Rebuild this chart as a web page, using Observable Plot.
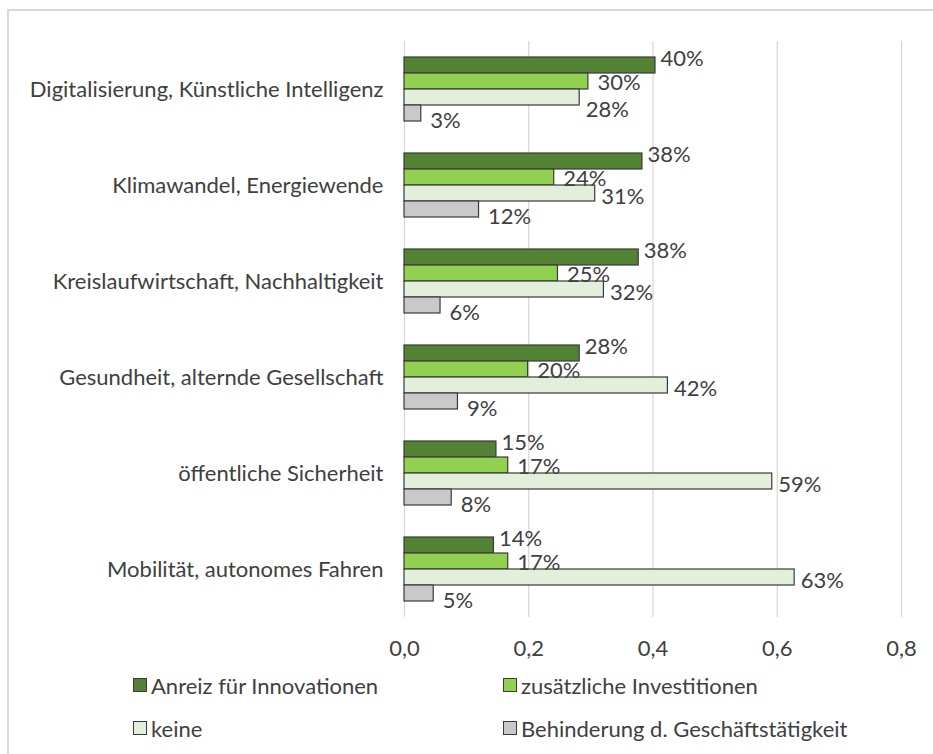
<!DOCTYPE html>
<html>
<head>
<meta charset="utf-8">
<script src="https://cdn.jsdelivr.net/npm/d3@7"></script>
<script src="https://cdn.jsdelivr.net/npm/@observablehq/plot@0.6"></script>
<style>
  html, body { margin: 0; padding: 0; background: #fff; overflow: hidden; }
  #wrap { position: relative; width: 933px; height: 754px; background: #fff; overflow: hidden; }
  #frame { position: absolute; left: 7px; top: 9px; width: 1000px; height: 1000px; border: 2px solid #d9d9d9; }
  #chart { position: absolute; left: 0; top: 0; }
  .leg { position: absolute; display: flex; align-items: center; font-family: Lato, sans-serif; font-size: 22px; color: #404040; white-space: nowrap; }
  .sw { width: 12px; height: 12px; border: 1px solid #3a3a3a; margin-right: 4px; }
</style>
</head>
<body>
<div id="wrap">
  <div id="frame"></div>
  <div id="chart"></div>
  <div id="legend"></div>
</div>
<script>
const categories = [
  "Digitalisierung, Künstliche Intelligenz",
  "Klimawandel, Energiewende",
  "Kreislaufwirtschaft, Nachhaltigkeit",
  "Gesundheit, alternde Gesellschaft",
  "öffentliche Sicherheit",
  "Mobilität, autonomes Fahren"
];
const series = ["Anreiz für Innovationen", "zusätzliche Investitionen", "keine", "Behinderung d. Geschäftstätigkeit"];
const anreiz        = [0.404, 0.383, 0.377, 0.282, 0.148, 0.144];
const investitionen = [0.296, 0.241, 0.247, 0.199, 0.167, 0.167];
const keine         = [0.282, 0.307, 0.321, 0.424, 0.592, 0.628];
const behinderung   = [0.027, 0.120, 0.058, 0.086, 0.076, 0.047];
const xTicks = [0, 0.2, 0.4, 0.6, 0.8];
const colors = ["#548235", "#92d050", "#e2efda", "#c9c9c9"];

const seriesValues = [anreiz, investitionen, keine, behinderung];
const data = categories.flatMap((c, i) =>
  seriesValues.map((arr, k) => ({category: c, series: series[k], k, value: arr[i]}))
);
const pct = d3.format(".0%");

// layout
const W = 933, H = 670, mL = 404, mR = 32, mT = 40, mB = 52;
const yPad = 0.92;
const facetH = (H - mT - mB) / categories.length;
const barStep = facetH / (series.length + 2 * yPad);
const xPx = d3.scaleLinear([0, 0.8], [mL, W - mR]);

// label offsets per series (dx, dy), then push apart labels that would collide
const offs = [[5, -7], [9, 1], [6, 3], [9, 7]];
const labels = data.map(d => ({...d, dx: offs[d.k][0], dy: offs[d.k][1]}));
for (const c of categories) {
  const ls = labels.filter(d => d.category === c);
  for (let k = 1; k < ls.length; k++) {
    const p = ls[k - 1], q = ls[k];
    const sep = barStep + q.dy - p.dy;
    const dxs = Math.abs((xPx(q.value) + q.dx) - (xPx(p.value) + p.dx));
    if (dxs < 25 && sep < 24) q.dy += 28 - sep;
  }
}
const groups = d3.groups(labels, d => d.dx + "," + d.dy);

const chart = Plot.plot({
  width: W,
  height: H,
  marginLeft: mL,
  marginRight: mR,
  marginTop: mT,
  marginBottom: mB,
  style: {fontFamily: "Lato, sans-serif", fontSize: "22px", color: "#404040", background: "transparent", overflow: "visible"},
  x: {domain: [0, 0.8], ticks: xTicks, tickFormat: d => d.toFixed(1).replace(".", ","), tickSize: 0, tickPadding: 23, label: null},
  fy: {domain: categories, padding: 0, label: null, tickSize: 0, tickPadding: 21},
  y: {domain: series, paddingInner: 0, paddingOuter: yPad, axis: null},
  color: {domain: series, range: colors},
  marks: [
    Plot.ruleX(xTicks, {stroke: "#d9d9d9", strokeWidth: 1.3}),
    Plot.barX(data, {fy: "category", y: "series", x: "value", fill: "series", stroke: "#3a3a3a", strokeWidth: 1.2}),
    ...groups.map(([key, g]) => Plot.text(g, {
      fy: "category", y: "series", x: "value", text: d => pct(d.value),
      textAnchor: "start", dx: g[0].dx, dy: g[0].dy, fill: "#404040"
    }))
  ]
});
document.getElementById("chart").appendChild(chart);

// legend
const legendPos = [[133, 685], [503, 685], [133, 728], [503, 728]];
const legend = document.getElementById("legend");
series.forEach((s, k) => {
  const item = document.createElement("div");
  item.className = "leg";
  item.style.left = legendPos[k][0] + "px";
  item.style.top = (legendPos[k][1] - 13) + "px";
  item.style.height = "26px";
  const sw = document.createElement("span");
  sw.className = "sw";
  sw.style.background = colors[k];
  const t = document.createElement("span");
  t.textContent = s;
  item.appendChild(sw);
  item.appendChild(t);
  legend.appendChild(item);
});
</script>
</body>
</html>
